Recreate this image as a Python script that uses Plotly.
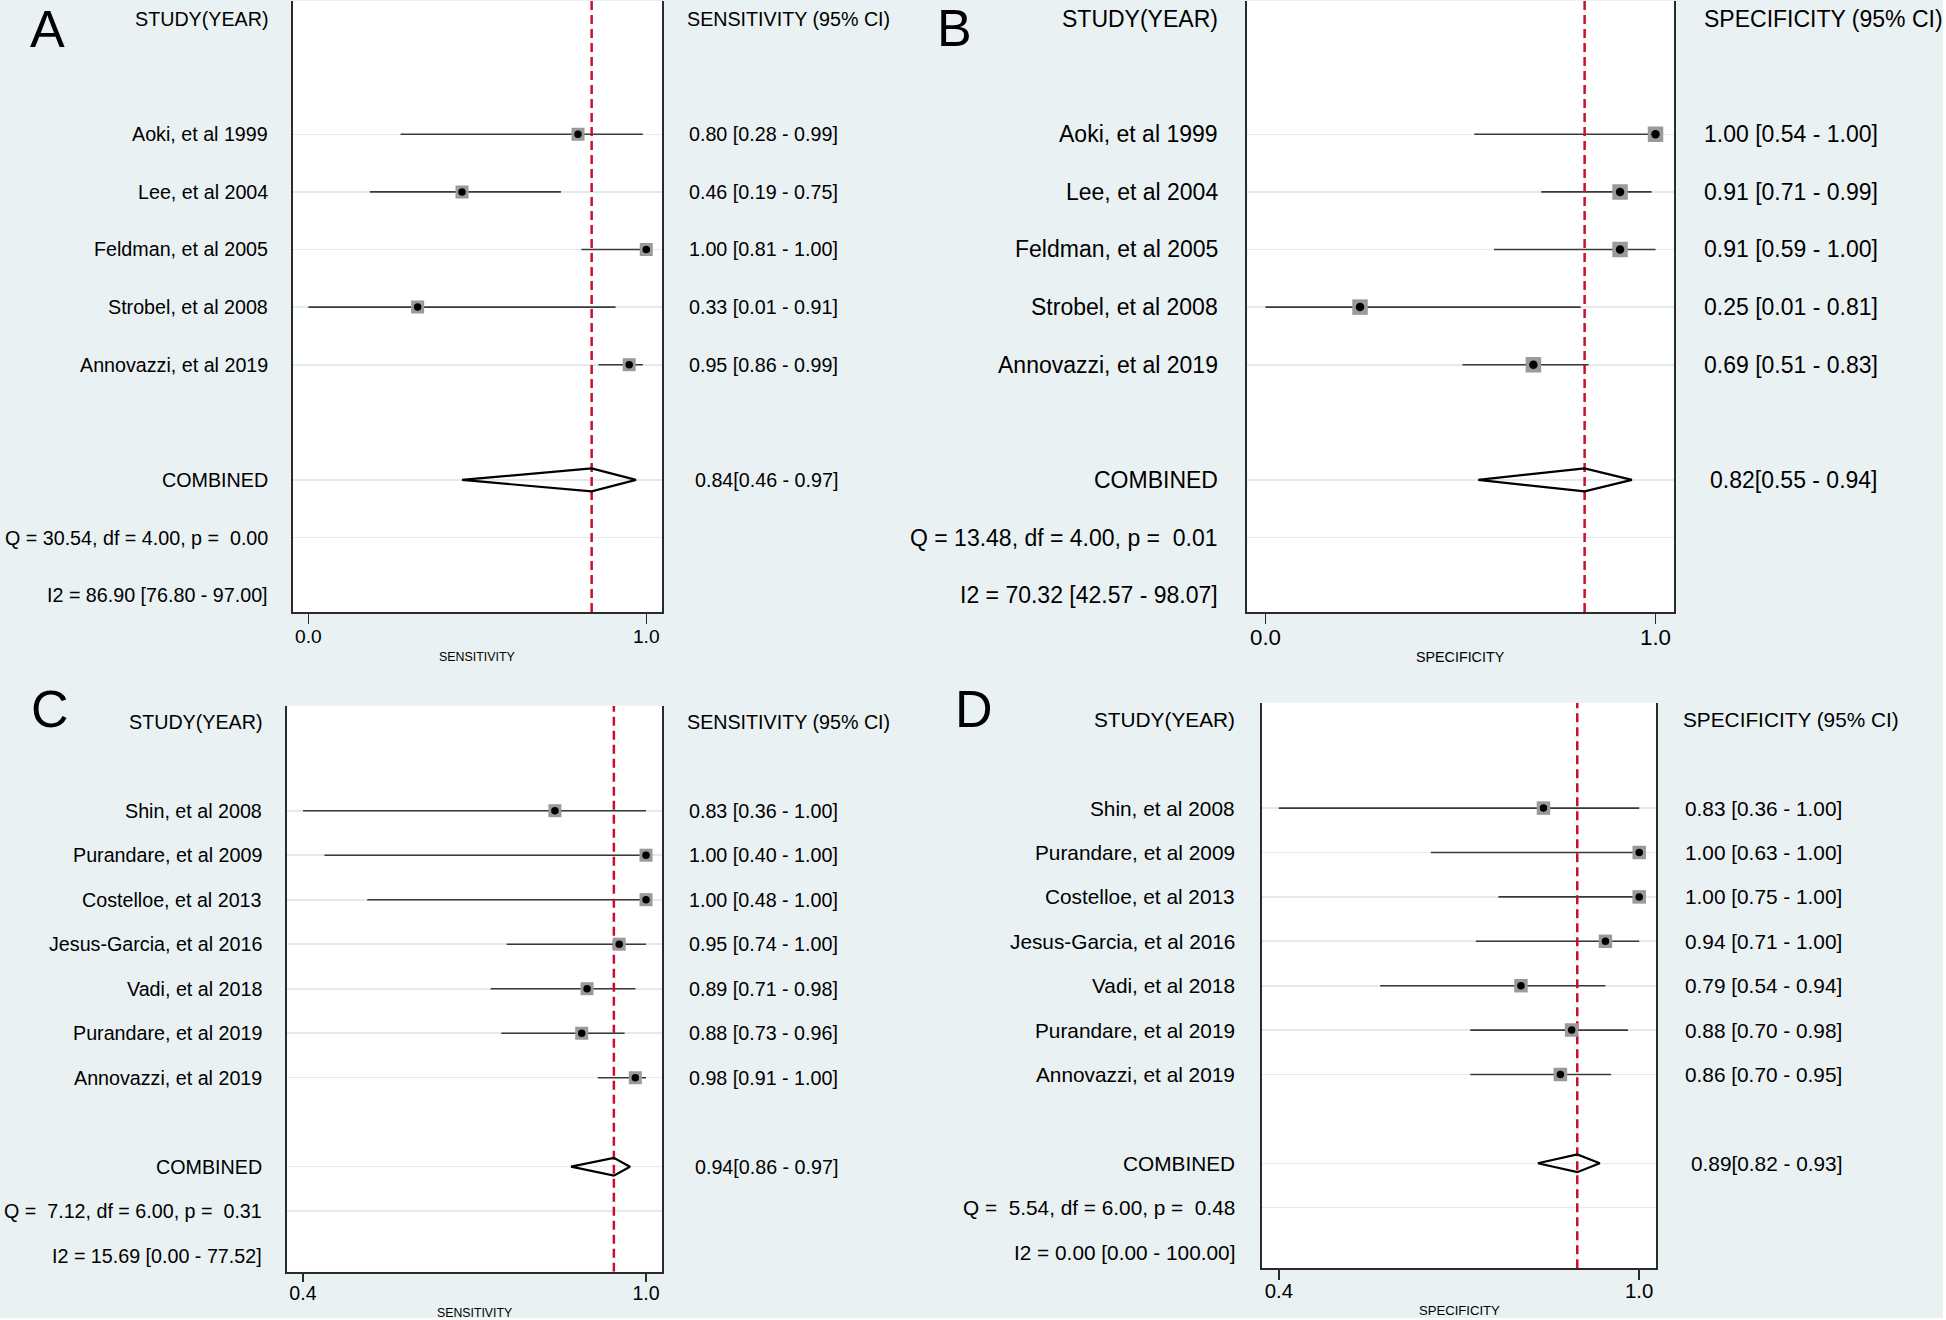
import plotly.graph_objects as go

W, H = 1946, 1320

# ---------------- data ----------------
studies_ab = ["Aoki, et al 1999", "Lee, et al 2004", "Feldman, et al 2005",
              "Strobel, et al 2008", "Annovazzi, et al 2019"]
sens_a = [0.80, 0.46, 1.00, 0.33, 0.95]
sens_a_lo = [0.28, 0.19, 0.81, 0.01, 0.86]
sens_a_hi = [0.99, 0.75, 1.00, 0.91, 0.99]
sens_a_comb = [0.84, 0.46, 0.97]
sens_a_q = [30.54, 4.00, 0.00]
sens_a_i2 = [86.90, 76.80, 97.00]

spec_b = [1.00, 0.91, 0.91, 0.25, 0.69]
spec_b_lo = [0.54, 0.71, 0.59, 0.01, 0.51]
spec_b_hi = [1.00, 0.99, 1.00, 0.81, 0.83]
spec_b_comb = [0.82, 0.55, 0.94]
spec_b_q = [13.48, 4.00, 0.01]
spec_b_i2 = [70.32, 42.57, 98.07]

studies_cd = ["Shin, et al 2008", "Purandare, et al 2009", "Costelloe, et al 2013",
              "Jesus-Garcia, et al 2016", "Vadi, et al 2018", "Purandare, et al 2019",
              "Annovazzi, et al 2019"]
sens_c = [0.83, 1.00, 1.00, 0.95, 0.89, 0.88, 0.98]
sens_c_lo = [0.36, 0.40, 0.48, 0.74, 0.71, 0.73, 0.91]
sens_c_hi = [1.00, 1.00, 1.00, 1.00, 0.98, 0.96, 1.00]
sens_c_comb = [0.94, 0.86, 0.97]
sens_c_q = [7.12, 6.00, 0.31]
sens_c_i2 = [15.69, 0.00, 77.52]

spec_d = [0.83, 1.00, 1.00, 0.94, 0.79, 0.88, 0.86]
spec_d_lo = [0.36, 0.63, 0.75, 0.71, 0.54, 0.70, 0.70]
spec_d_hi = [1.00, 1.00, 1.00, 1.00, 0.94, 0.98, 0.95]
spec_d_comb = [0.89, 0.82, 0.93]
spec_d_q = [5.54, 6.00, 0.48]
spec_d_i2 = [0.00, 0.00, 100.00]

# ---------------- style ----------------
FONT = "Liberation Sans, Arial, sans-serif"
BG = "#EAF1F3"
GRID = "#E1EAED"
RED = "#C8102E"
AXC = "#2b2b2b"
SQ = "#9A9A9A"
CI_C = "#3a3a3a"

panels = [
    dict(letter="A", studies=studies_ab, est=sens_a, lo=sens_a_lo, hi=sens_a_hi,
         comb=sens_a_comb, q=sens_a_q, i2=sens_a_i2, meas="SENSITIVITY",
         box=(292.7, 662.0, 1.0, 612.0), head=19.1, step=57.6,
         lab_r=268, val_r=837.5, vhead_l=687, letter_xy=(47.5, 29),
         title_y=656.7, sq=13, dot=7.5, fs=19.7, tick_fs=19.2, title_fs=12.4,
         ticklen=10, standoff=-4),
    dict(letter="B", studies=studies_ab, est=spec_b, lo=spec_b_lo, hi=spec_b_hi,
         comb=spec_b_comb, q=spec_b_q, i2=spec_b_i2, meas="SPECIFICITY",
         box=(1247.3, 1673.7, 1.0, 612.0), head=19.1, step=57.6,
         lab_r=1218, val_r=1878, vhead_l=1703.8, letter_xy=(954, 28),
         title_y=656.7, sq=15.5, dot=8.5, fs=23.0, tick_fs=22.3, title_fs=14.3,
         ticklen=10, standoff=-6),
    dict(letter="C", studies=studies_cd, est=sens_c, lo=sens_c_lo, hi=sens_c_hi,
         comb=sens_c_comb, q=sens_c_q, i2=sens_c_i2, meas="SENSITIVITY",
         box=(287.0, 662.0, 706.0, 1271.7), head=721.7, step=44.5,
         lab_r=262.3, val_r=837.7, vhead_l=686.7, letter_xy=(49.5, 708.5),
         title_y=1312.7, sq=13, dot=7.5, fs=19.7, tick_fs=19.6, title_fs=12.3,
         ticklen=8, standoff=-5),
    dict(letter="D", studies=studies_cd, est=spec_d, lo=spec_d_lo, hi=spec_d_hi,
         comb=spec_d_comb, q=spec_d_q, i2=spec_d_i2, meas="SPECIFICITY",
         box=(1262.0, 1656.0, 702.7, 1268.3), head=719.3, step=44.4,
         lab_r=1235, val_r=1841.7, vhead_l=1683.3, letter_xy=(974, 708.5),
         title_y=1310, sq=13.5, dot=7.5, fs=20.8, tick_fs=20.4, title_fs=13.1,
         ticklen=10, standoff=-7),
]


def px(x):
    return x / W


def py(y):
    return 1 - y / H


def keep_spaces(s):
    return s.replace("  ", " \u00a0")


fig = go.Figure()
annotations = []
layout_axes = {}

for i, p in enumerate(panels, start=1):
    xa = "x" if i == 1 else f"x{i}"
    ya = "y" if i == 1 else f"y{i}"
    n = len(p["studies"])
    rows = list(range(2, 2 + n))
    r_comb = n + 3
    r_q = n + 4
    r_i2 = n + 5

    x0, x1, y0, y1 = p["box"]
    yr_top = (y0 - p["head"]) / p["step"]
    yr_bot = (y1 - p["head"]) / p["step"]

    tick_lo = min(p["lo"])
    tick_hi = max(p["hi"])
    span = tick_hi - tick_lo
    xr = [tick_lo - 0.0466 * span, tick_hi + 0.0466 * span]

    # CI lines
    cx, cy = [], []
    for lo, hi, r in zip(p["lo"], p["hi"], rows):
        cx += [lo, hi, None]
        cy += [r, r, None]
    fig.add_trace(go.Scatter(x=cx, y=cy, mode="lines", xaxis=xa, yaxis=ya,
                             line=dict(color=CI_C, width=1.6), hoverinfo="skip"))
    # pooled estimate line
    est_c, lo_c, hi_c = p["comb"]
    fig.add_trace(go.Scatter(x=[est_c, est_c], y=[yr_bot, yr_top], mode="lines",
                             xaxis=xa, yaxis=ya, cliponaxis=True,
                             line=dict(color=RED, width=2.5, dash="9px,5px"),
                             hoverinfo="skip"))
    # diamond
    hh = 0.2
    fig.add_trace(go.Scatter(x=[lo_c, est_c, hi_c, est_c, lo_c],
                             y=[r_comb, r_comb - hh, r_comb, r_comb + hh, r_comb],
                             mode="lines", xaxis=xa, yaxis=ya,
                             line=dict(color="#000000", width=2.2), hoverinfo="skip"))
    # squares and dots
    fig.add_trace(go.Scatter(x=p["est"], y=rows, mode="markers", xaxis=xa, yaxis=ya,
                             marker=dict(symbol="square", size=p["sq"], color=SQ,
                                         line=dict(width=0)), hoverinfo="skip"))
    fig.add_trace(go.Scatter(x=p["est"], y=rows, mode="markers", xaxis=xa, yaxis=ya,
                             marker=dict(symbol="circle", size=p["dot"], color="#000000",
                                         line=dict(width=0)), hoverinfo="skip"))

    layout_axes[("xaxis" if i == 1 else f"xaxis{i}")] = dict(
        domain=[px(x0), px(x1)], range=xr, anchor=ya,
        tickvals=[tick_lo, tick_hi], ticktext=[f"{tick_lo:.1f}", f"{tick_hi:.1f}"],
        ticks="outside", ticklen=p["ticklen"], tickwidth=1.5, tickcolor=AXC,
        ticklabelstandoff=p["standoff"],
        showline=True, linecolor=AXC, linewidth=2, showgrid=False, zeroline=False,
        tickfont=dict(family=FONT, size=p["tick_fs"], color="#000000"), fixedrange=True)
    layout_axes[("yaxis" if i == 1 else f"yaxis{i}")] = dict(
        domain=[py(y1), py(y0)], range=[yr_bot, yr_top], anchor=xa,
        tickvals=rows + [r_comb, r_q], showticklabels=False, ticks="",
        showgrid=True, gridcolor=GRID, gridwidth=1.6,
        showline=True, mirror=True, linecolor=AXC, linewidth=2, zeroline=False,
        fixedrange=True)

    tf = dict(family=FONT, size=p["fs"], color="#000000")

    def add_text(text, x, y, xanchor, yref=ya, font=tf):
        annotations.append(dict(text=text, x=px(x), y=y, xref="paper", yref=yref,
                                xanchor=xanchor, yanchor="middle", showarrow=False,
                                borderpad=0, borderwidth=0, font=font))

    add_text("STUDY(YEAR)", p["lab_r"], 0, "right")
    add_text(f"{p['meas']} (95% CI)", p["vhead_l"], 0, "left")
    for s, e, lo, hi, r in zip(p["studies"], p["est"], p["lo"], p["hi"], rows):
        add_text(s, p["lab_r"], r, "right")
        add_text(f"{e:.2f} [{lo:.2f} - {hi:.2f}]", p["val_r"], r, "right")
    add_text("COMBINED", p["lab_r"], r_comb, "right")
    add_text(f"{est_c:.2f}[{lo_c:.2f} - {hi_c:.2f}]", p["val_r"], r_comb, "right")
    qv, dfv, pv = p["q"]
    add_text(keep_spaces(f"Q = {qv:5.2f}, df = {dfv:4.2f}, p = {pv:5.2f}"),
             p["lab_r"], r_q, "right")
    i2v, i2l, i2h = p["i2"]
    add_text(f"I2 = {i2v:.2f} [{i2l:.2f} - {i2h:.2f}]", p["lab_r"], r_i2, "right")

    # panel letter
    lx, ly = p["letter_xy"]
    annotations.append(dict(text=p["letter"], x=px(lx), y=py(ly), xref="paper", yref="paper",
                            xanchor="center", yanchor="middle", showarrow=False,
                            borderpad=0, font=dict(family=FONT, size=52, color="#000000")))
    # axis title
    annotations.append(dict(text=p["meas"], x=px((x0 + x1) / 2), y=py(p["title_y"]),
                            xref="paper", yref="paper", xanchor="center", yanchor="middle",
                            showarrow=False, borderpad=0,
                            font=dict(family=FONT, size=p["title_fs"], color="#000000")))

shapes = [
    dict(type="rect", xref="paper", yref="paper", x0=px(1943), x1=1, y0=0, y1=1,
         fillcolor="#FFFFFF", line=dict(width=0), layer="below"),
    dict(type="rect", xref="paper", yref="paper", x0=0, x1=1, y0=0, y1=1 - 1318 / H,
         fillcolor="#FFFFFF", line=dict(width=0), layer="below"),
]

fig.update_layout(
    width=W, height=H, margin=dict(l=0, r=0, t=0, b=0, pad=0),
    paper_bgcolor=BG, plot_bgcolor="#FFFFFF", showlegend=False,
    annotations=annotations, shapes=shapes, font=dict(family=FONT),
    **layout_axes)

fig.write_html(
    "out.html",
    config={"displayModeBar": False, "staticPlot": True},
    post_script="document.body.style.margin='0';document.body.style.padding='0';"
                "document.body.style.overflow='hidden';",
)
